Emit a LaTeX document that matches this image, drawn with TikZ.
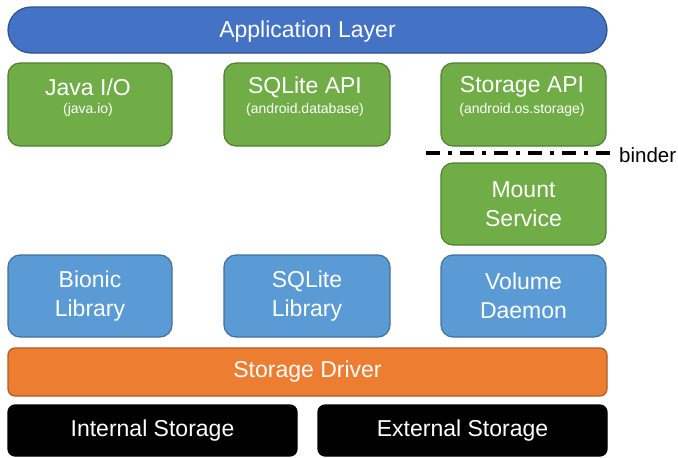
\documentclass[tikz,border=0pt]{standalone}
\usepackage{fontspec}
\setmainfont{Liberation Sans}
\definecolor{appfill}{HTML}{4472C4}
\definecolor{appdraw}{HTML}{2F528F}
\definecolor{grfill}{HTML}{70AD47}
\definecolor{grdraw}{HTML}{507E32}
\definecolor{blfill}{HTML}{5B9BD5}
\definecolor{bldraw}{HTML}{41719C}
\definecolor{orfill}{HTML}{ED7D31}
\definecolor{ordraw}{HTML}{AE5A21}
\tikzset{
  x=1pt,y=-1pt,
  bigfont/.style={font=\fontsize{23}{28.5}\selectfont},
  base/.style={rectangle, line width=1.2pt, inner sep=0pt, text=white, align=center, bigfont},
  appbox/.style={base, fill=appfill, draw=appdraw, rounded corners=23pt},
  grbox/.style={base, fill=grfill, draw=grdraw, rounded corners=12pt},
  blbox/.style={base, fill=blfill, draw=bldraw, rounded corners=12pt},
  orbox/.style={base, fill=orfill, draw=ordraw, rounded corners=7pt},
  bkbox/.style={base, fill=black, draw=black, rounded corners=7pt},
  bigtxt/.style={text=white, bigfont, inner sep=0pt},
  smalltxt/.style={text=white, font=\fontsize{14}{17}\selectfont, inner sep=0pt},
}
\begin{document}
\begin{tikzpicture}
\useasboundingbox (0,0) rectangle (678,458);
% application layer
\node[appbox, minimum width=599pt, minimum height=46pt] (app) at (307.5,30) {};
\node[bigtxt] (appt) at (307.5,32) {Application Layer};
% green API boxes
\node[grbox, minimum width=164pt, minimum height=83pt] (java) at (90,104.5) {};
\node[grbox, minimum width=166pt, minimum height=83pt] (sqlapi) at (307,104.5) {};
\node[grbox, minimum width=165pt, minimum height=83pt] (stapi) at (523.5,104.5) {};
\node[bigtxt] (javat) at (88,87) {Java I/O};
\node[smalltxt] (javas) at (88,110) {(java.io)};
\node[bigtxt] (sqlapit) at (305,87) {SQLite API};
\node[smalltxt] (sqlapis) at (305,110) {(android.database)};
\node[bigtxt] (stapit) at (522,87) {Storage API};
\node[smalltxt] (stapis) at (522,110) {(android.os.storage)};
% binder
\coordinate (bL) at (426,153);
\coordinate (bR) at (611,153);
\draw[line width=3.5pt, dash pattern=on 14pt off 8pt on 4pt off 8pt] (bL) -- (bR);
\node[anchor=west, inner sep=0pt, font=\fontsize{20.5}{24}\selectfont] (binder) at (619,155) {binder};
% mount service
\node[grbox, minimum width=165pt, minimum height=82pt] (mount) at (523.5,204) {Mount\\Service};
% blue libraries
\node[blbox, minimum width=164pt, minimum height=82pt] (bionic) at (90,296) {Bionic\\Library};
\node[blbox, minimum width=166pt, minimum height=82pt] (sqllib) at (307,296) {SQLite\\Library};
\node[blbox, minimum width=165pt, minimum height=82pt] (vold) at (523.5,296) {Volume\\Daemon};
% storage driver
\node[orbox, minimum width=599pt, minimum height=48pt] (driver) at (307.5,372) {Storage Driver};
% storage
\node[bkbox, minimum width=289pt, minimum height=51pt] (internal) at (152.5,430.5) {Internal Storage};
\node[bkbox, minimum width=289pt, minimum height=51pt] (external) at (462.5,430.5) {External Storage};
\end{tikzpicture}
\end{document}
